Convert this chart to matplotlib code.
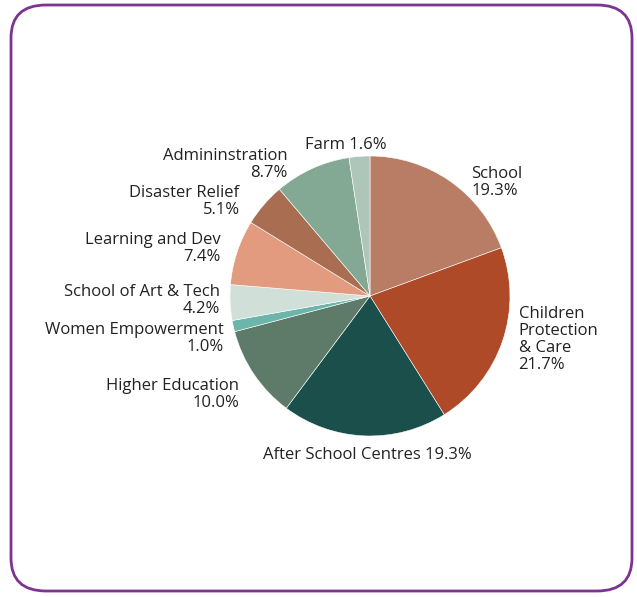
import numpy as np
import matplotlib.pyplot as plt
from matplotlib.patches import FancyBboxPatch

plt.rcParams['font.family'] = ['Open Sans', 'DejaVu Sans']

categories = ["School", "Children\nProtection\n& Care", "After School Centres",
              "Higher Education", "Women Empowerment", "School of Art & Tech",
              "Learning and Dev", "Disaster Relief", "Admininstration", "Farm"]
# slice sizes as drawn in the original (they don't exactly match the printed %)
shares = [19.4, 21.7, 19.1, 10.7, 1.3, 4.1, 7.5, 5.0, 8.8, 2.4]
# percentages printed on the labels
label_pct = ["19.3%", "21.7%", "19.3%", "10.0%", "1.0%", "4.2%", "7.4%",
             "5.1%", "8.7%", "1.6%"]
one_line = [False, False, True, False, False, False, False, False, False, True]
colors = ["#B97D66", "#AE4A28", "#1B4F4B", "#5E7B69", "#6BB5AA",
          "#D0DFD8", "#E29B7E", "#A96D52", "#83A994", "#ADC6B9"]
# label nudges (in pie radii) so the labels sit like in the original
nudge_x = [0.10, 0.03, 0.025, -0.03, 0.02, 0.02, -0.03, -0.105, -0.135, -0.09]
nudge_y = [-0.085, 0.045, -0.045, -0.095, -0.07, 0.02, 0.0, -0.035, -0.055, -0.01]

fig = plt.figure(figsize=(6.37, 5.97), dpi=100)

ax = fig.add_axes([230 / 637, 160 / 597, 280 / 637, 282 / 597])
wedges, _ = ax.pie(shares, colors=colors, startangle=90, counterclock=False,
                   wedgeprops=dict(edgecolor="white", linewidth=0.4))
ax.set_xlim(-1, 1)
ax.set_ylim(-1, 1)
ax.set_aspect("equal")

for i, w in enumerate(wedges):
    ang = np.deg2rad((w.theta1 + w.theta2) / 2)
    r = 1.09
    x = r * np.cos(ang) + nudge_x[i]
    y = r * np.sin(ang) + nudge_y[i]
    if abs(np.cos(ang)) < 0.3:
        ha = "center"
    elif np.cos(ang) > 0:
        ha = "left"
    else:
        ha = "right"
    sep = " " if one_line[i] else "\n"
    ax.text(x, y, f"{categories[i]}{sep}{label_pct[i]}", ha=ha, va="center",
            multialignment="left" if ha == "left" else "right",
            fontsize=12, color="#222222", linespacing=1.08, clip_on=False)

# rounded purple frame
frame = FancyBboxPatch((11 / 637, 6 / 597), 621 / 637, 586 / 597,
                       boxstyle="round,pad=0,rounding_size=0.055",
                       transform=fig.transFigure, facecolor="none",
                       edgecolor="#7D3391", linewidth=2)
fig.patches.append(frame)

fig.savefig("out.png", dpi=100)
